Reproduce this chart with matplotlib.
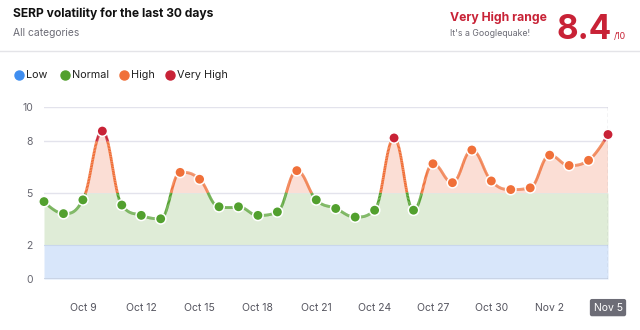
import numpy as np
import matplotlib
matplotlib.use("Agg")
import matplotlib.pyplot as plt
from matplotlib.collections import LineCollection

plt.rcParams['font.family'] = ['Inter', 'DejaVu Sans']

# data (Oct 7 .. Nov 5)
volatility = [4.5, 3.8, 4.6, 8.6, 4.3, 3.7, 3.5, 6.2, 5.8, 4.2,
              4.2, 3.7, 3.9, 6.3, 4.6, 4.1, 3.6, 4.0, 8.2, 4.0,
              6.7, 5.6, 7.5, 5.7, 5.2, 5.3, 7.2, 6.6, 6.9, 8.4]
tick_idx = [2, 5, 8, 11, 14, 17, 20, 23, 26, 29]
tick_labels = ["Oct 9", "Oct 12", "Oct 15", "Oct 18", "Oct 21",
               "Oct 24", "Oct 27", "Oct 30", "Nov 2", "Nov 5"]
y_ticks = [0, 2, 5, 8, 10]

legend_names = ["Low", "Normal", "High", "Very High"]
zone_lo = [0, 2, 5, 8]
zone_hi = [2, 5, 8, 10]
line_cols = ["#3f8ef0", "#52a02e", "#f07039", "#c82236"]
fill_cols = ["#d8e6fa", "#dfecd7", "#fbded5", "#fbdcd5"]


def spline(xs, ys, smoothing=1.5, steps=60):
    # highcharts-like spline
    n = len(xs)
    lc = [(xs[i], ys[i]) for i in range(n)]
    rc = [(xs[i], ys[i]) for i in range(n)]
    d = smoothing + 1
    for i in range(1, n - 1):
        lx, ly = xs[i - 1], ys[i - 1]
        px, py = xs[i], ys[i]
        nx, ny = xs[i + 1], ys[i + 1]
        lcx = (smoothing * px + lx) / d
        lcy = (smoothing * py + ly) / d
        rcx = (smoothing * px + nx) / d
        rcy = (smoothing * py + ny) / d
        corr = (rcy - lcy) * (rcx - px) / (rcx - lcx) + py - rcy
        lcy += corr
        rcy += corr
        if lcy > ly and lcy > py:
            lcy = max(ly, py); rcy = 2 * py - lcy
        elif lcy < ly and lcy < py:
            lcy = min(ly, py); rcy = 2 * py - lcy
        if rcy > ny and rcy > py:
            rcy = max(ny, py); lcy = 2 * py - rcy
        elif rcy < ny and rcy < py:
            rcy = min(ny, py); lcy = 2 * py - rcy
        lc[i] = (lcx, lcy)
        rc[i] = (rcx, rcy)
    t = np.linspace(0, 1, steps)[:, None]
    pts = []
    for i in range(n - 1):
        p0 = np.array([xs[i], ys[i]])
        p1 = np.array(rc[i])
        p2 = np.array(lc[i + 1])
        p3 = np.array([xs[i + 1], ys[i + 1]])
        b = ((1 - t) ** 3) * p0 + 3 * ((1 - t) ** 2) * t * p1 + 3 * (1 - t) * t ** 2 * p2 + t ** 3 * p3
        pts.append(b if i == 0 else b[1:])
    pts = np.vstack(pts)
    return pts[:, 0], pts[:, 1]


def zone_of(v):
    for k in range(3, -1, -1):
        if v >= zone_lo[k]:
            return k
    return 0


x = np.arange(len(volatility))
y = np.array(volatility)
cx, cy = spline(list(x), list(y))

fig = plt.figure(figsize=(6.4, 3.3), dpi=100)
ax = fig.add_axes([44 / 640, 51 / 330, 564 / 640, 172 / 330])

# area fill by zones
for k in range(4):
    top = np.clip(cy, zone_lo[k], zone_hi[k])
    ax.fill_between(cx, zone_lo[k], top, where=cy > zone_lo[k], color=fill_cols[k], lw=0, zorder=1)

for g in [5, 8, 10]:
    ax.axhline(g, color="#e3e3ec", lw=1, zorder=0.5)
ax.axhline(2, color="#c9d7ec", lw=0.8, zorder=1.2)
ax.axhline(0, color="#c6d1e2", lw=1.2, zorder=1.2)

# colored spline line
segs = np.stack([np.column_stack([cx[:-1], cy[:-1]]), np.column_stack([cx[1:], cy[1:]])], axis=1)
mid = (cy[:-1] + cy[1:]) / 2
cols = [line_cols[zone_of(v)] for v in mid]
ax.add_collection(LineCollection(segs, colors=cols, linewidths=2, zorder=3, capstyle="butt"))

# crosshair on last day
ax.plot([x[-1], x[-1]], [0, 10], color="#a0a0a8", lw=0.9, ls=(0, (3, 2)), zorder=2)

pcols = [line_cols[zone_of(v)] for v in y]
ax.scatter(x, y, s=56, c=pcols, edgecolors="white", linewidths=1.1, zorder=4, clip_on=False)

ax.set_xlim(x[0], x[-1])
ax.set_ylim(0, 10)
ax.set_yticks(y_ticks)
ax.set_yticklabels([str(v) for v in y_ticks], color="#666670", fontsize=7.5)
ax.set_xticks(tick_idx)
ax.set_xticklabels(tick_labels, color="#55555f", fontsize=7.5)
ax.tick_params(axis="both", length=0)
ax.tick_params(axis="y", pad=8)
ax.tick_params(axis="x", pad=17)
last = ax.get_xticklabels()[-1]
last.set_color("white")
last.set_bbox(dict(boxstyle="round,pad=0.35,rounding_size=0.2", fc="#6c6c76", ec="none"))
for s in ax.spines.values():
    s.set_visible(False)

# header
fig.text(13 / 640, 1 - 14 / 330, "SERP volatility for the last 30 days", fontsize=8.7,
         fontweight="bold", color="#111111", va="center")
fig.text(13 / 640, 1 - 33 / 330, "All categories", fontsize=7.4, color="#6b6b75", va="center")
fig.add_artist(plt.Line2D([0, 1], [1 - 51 / 330, 1 - 51 / 330], color="#e4e4e8", lw=1))

fig.text(450 / 640, 1 - 18 / 330, "Very High range", fontsize=8.8, fontweight="bold",
         color="#c82236", va="center")
fig.text(450 / 640, 1 - 34 / 330, "It's a Googlequake!", fontsize=6.3, color="#6b6b75", va="center")
fig.text(612 / 640, 1 - 39 / 330, "8.4", fontsize=24, fontweight="bold", color="#c82236",
         va="baseline", ha="right")
fig.text(614 / 640, 1 - 39 / 330, "/10", fontsize=6.3, color="#c82236", va="baseline")

# legend
lx = [19, 65, 124, 170]
for k in range(4):
    fig.add_artist(plt.Line2D([lx[k] / 640], [1 - 75 / 330], marker="o", ms=6.5,
                              color=line_cols[k], mec=line_cols[k]))
    fig.text((lx[k] + 7) / 640, 1 - 75 / 330, legend_names[k], fontsize=7.8, color="#222222", va="center")

fig.savefig("out.png", dpi=100, facecolor="white")
